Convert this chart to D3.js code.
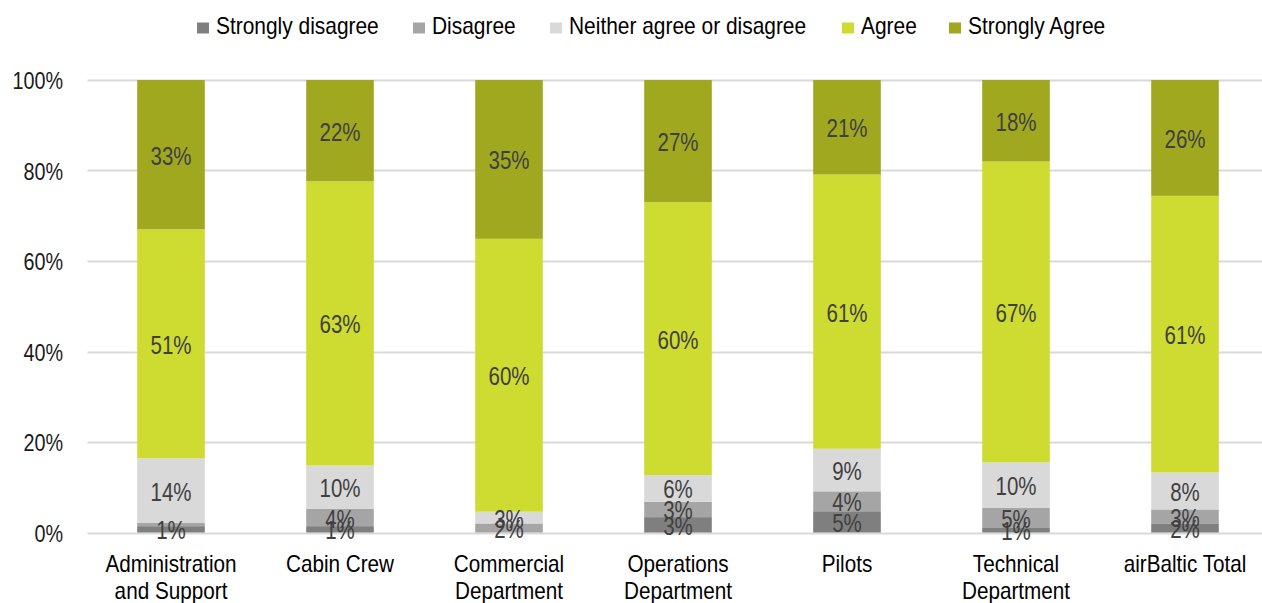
<!DOCTYPE html>
<html>
<head>
<meta charset="utf-8">
<script src="https://cdn.jsdelivr.net/npm/d3@7/dist/d3.min.js"></script>
<style>
  html, body { margin: 0; padding: 0; background: #fff; }
  svg { display: block; font-family: "Liberation Sans", Arial, sans-serif; }
</style>
</head>
<body>
<svg id="chart" width="1262" height="603"></svg>
<script>
// Survey answers by department, share of respondents (%)
const categories = [
  ["Administration", "and Support"],
  ["Cabin Crew"],
  ["Commercial", "Department"],
  ["Operations", "Department"],
  ["Pilots"],
  ["Technical", "Department"],
  ["airBaltic Total"]
];
const seriesNames = ["Strongly disagree", "Disagree", "Neither agree or disagree", "Agree", "Strongly Agree"];
const stronglyDisagree = [1.4, 1.4, 0.0, 3.4, 4.7, 1.0, 1.9];
const disagree         = [0.7, 3.8, 2.0, 3.4, 4.4, 4.5, 3.2];
const neither          = [14.3, 9.6, 2.6, 5.9, 9.4, 10.0, 8.2];
const agree            = [50.6, 62.8, 60.3, 60.3, 60.6, 66.5, 61.1];
const stronglyAgree    = [33.0, 22.4, 35.1, 27.0, 20.9, 18.0, 25.6];
const yTicks = [0, 20, 40, 60, 80, 100];

const colors = ["#7f7f7f", "#a5a5a5", "#d9d9d9", "#cedb31", "#a0a820"];
const seriesValues = [stronglyDisagree, disagree, neither, agree, stronglyAgree];

const svg = d3.select("#chart");
const margin = { left: 86.5, right: 1269.5, top: 80, bottom: 532.5 };

const x = d3.scaleBand()
  .domain(d3.range(categories.length))
  .range([margin.left, margin.right]);
const barW = x.bandwidth() * 0.4;

const y = d3.scaleLinear().domain([0, 100]).range([margin.bottom, margin.top]);

// narrow, tall lettering: text is placed at (px, py) and squeezed horizontally
function label(g, px, py, str, size, sx, anchor, fill) {
  return g.append("text")
    .attr("transform", `translate(${px},${py}) scale(${sx},1)`)
    .attr("text-anchor", anchor)
    .attr("font-size", size)
    .attr("fill", fill)
    .text(str);
}

// gridlines
svg.append("g")
  .selectAll("line")
  .data(yTicks)
  .join("line")
  .attr("x1", margin.left + 1)
  .attr("x2", 1262)
  .attr("y1", d => Math.round(y(d)) + 0.5)
  .attr("y2", d => Math.round(y(d)) + 0.5)
  .attr("stroke", "#d9d9d9")
  .attr("stroke-width", 2);

// y axis labels
const yAxis = d3.axisLeft(y).tickValues(yTicks).tickFormat(d => d + "%").tickSize(0).tickPadding(0);
const yg = svg.append("g").attr("transform", "translate(63,0)").call(yAxis);
yg.select(".domain").remove();
yg.selectAll(".tick text").remove();
yg.selectAll(".tick").each(function (d) {
  label(d3.select(this), 0, 8.5, d + "%", 23, 0.86, "end", "#1a1a1a")
    .attr("font-family", "Liberation Sans, Arial, sans-serif");
});

// stacked data
const rows = categories.map((c, i) => {
  const r = { i };
  seriesNames.forEach((s, k) => r[s] = seriesValues[k][i]);
  return r;
});
const stack = d3.stack().keys(seriesNames)(rows);

const layers = svg.append("g")
  .selectAll("g")
  .data(stack)
  .join("g")
  .attr("fill", (d, k) => colors[k]);

layers.selectAll("rect")
  .data(d => d)
  .join("rect")
  .attr("x", d => x(d.data.i) + (x.bandwidth() - barW) / 2)
  .attr("width", barW)
  .attr("y", d => y(d[1]))
  .attr("height", d => y(d[0]) - y(d[1]));

// value labels
const labels = svg.append("g");
stack.forEach(layer => {
  layer.forEach(d => {
    const v = d[1] - d[0];
    if (v < 1) return;
    label(labels, x(d.data.i) + x.bandwidth() / 2, y((d[0] + d[1]) / 2) + 10,
      Math.round(v) + "%", 25, 0.82, "middle", "#404040");
  });
});

// category labels
const xg = svg.append("g");
categories.forEach((lines, i) => {
  lines.forEach((ln, j) => {
    label(xg, x(i) + x.bandwidth() / 2, 572 + j * 26.5, ln, 23, 0.9, "middle", "#000");
  });
});

// legend
const legendX = [197, 413, 550, 842, 949];
const lg = svg.append("g");
seriesNames.forEach((s, k) => {
  lg.append("rect")
    .attr("x", legendX[k])
    .attr("y", 22.5)
    .attr("width", 12)
    .attr("height", 11)
    .attr("fill", colors[k]);
  label(lg, legendX[k] + 19, 33.5, s, 23, 0.91, "start", "#000");
});
</script>
</body>
</html>
